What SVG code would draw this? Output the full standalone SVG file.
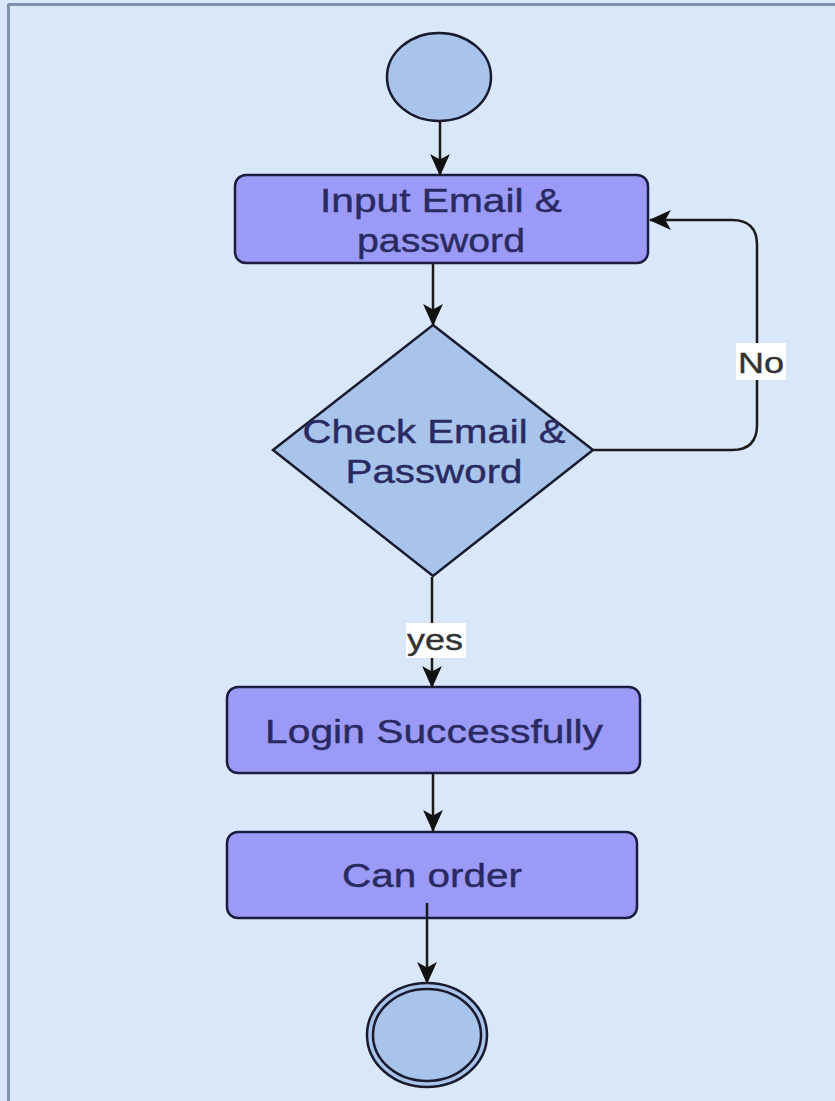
<svg xmlns="http://www.w3.org/2000/svg" width="835" height="1101" viewBox="0 0 835 1101">
<defs>
<style>
.proc{fill:#9b9bf7;stroke:#1c1c40;stroke-width:2.5}
.state{fill:#a9c4eb;stroke:#1a1a2e;stroke-width:2.5}
.t{font-family:"Liberation Sans",Arial,sans-serif;font-size:33px;fill:#2a2a62;text-anchor:middle;stroke:#2a2a62;stroke-width:0.4}
.lbl{font-family:"Liberation Sans",Arial,sans-serif;font-size:30px;fill:#333;text-anchor:middle;stroke:#333;stroke-width:0.4}
.edge{fill:none;stroke:#1a1a1a;stroke-width:2.5}
</style>
<marker id="arr" viewBox="0 0 20 20" refX="19" refY="10" markerWidth="22" markerHeight="22" orient="auto" markerUnits="userSpaceOnUse">
<path d="M0,1 L20,10 L0,19 L5,10 Z" fill="#111"/>
</marker>
</defs>
<rect x="0" y="0" width="835" height="1101" fill="#d9e7f8"/>
<line x1="8" y1="4.5" x2="835" y2="4.5" stroke="#7d91ab" stroke-width="3"/>
<line x1="8.5" y1="4" x2="8.5" y2="1101" stroke="#7d91ab" stroke-width="3"/>

<g id="start">
<ellipse class="state" cx="439" cy="77" rx="52" ry="44"/>
</g>

<g id="input">
<rect class="proc" x="235" y="175" width="413" height="88" rx="11"/>
<text class="t" x="441" y="212" textLength="242" lengthAdjust="spacingAndGlyphs">Input Email &amp;</text>
<text class="t" x="441" y="252" textLength="168" lengthAdjust="spacingAndGlyphs">password</text>
</g>

<g id="check">
<polygon class="state" points="433,325 593,450 433,576 273,450"/>
<text class="t" x="434" y="443" textLength="263" lengthAdjust="spacingAndGlyphs">Check Email &amp;</text>
<text class="t" x="434" y="483" textLength="177" lengthAdjust="spacingAndGlyphs">Password</text>
</g>

<g id="login">
<rect class="proc" x="227" y="687" width="413" height="86" rx="11"/>
<text class="t" x="434" y="743" textLength="338" lengthAdjust="spacingAndGlyphs">Login Successfully</text>
</g>

<g id="order">
<rect class="proc" x="227" y="832" width="410" height="86" rx="11"/>
<text class="t" x="432" y="887" textLength="180" lengthAdjust="spacingAndGlyphs">Can order</text>
</g>

<g id="end">
<ellipse class="state" cx="427" cy="1035" rx="60" ry="52"/>
<ellipse fill="none" stroke="#1a1a2e" stroke-width="2.5" cx="427" cy="1035" rx="54" ry="46"/>
</g>

<g id="connectors">
<line class="edge" x1="440" y1="122" x2="440" y2="175" marker-end="url(#arr)"/>
<line class="edge" x1="433" y1="264" x2="433" y2="325" marker-end="url(#arr)"/>
<path class="edge" d="M593,450 H732 Q757,450 757,425 V245 Q757,220 732,220 H650" marker-end="url(#arr)"/>
<rect x="736" y="343" width="50" height="37" fill="#ffffff"/>
<text class="lbl" x="761" y="373" textLength="46" lengthAdjust="spacingAndGlyphs">No</text>
<line class="edge" x1="432" y1="577" x2="432" y2="687" marker-end="url(#arr)"/>
<rect x="406" y="623" width="60" height="35" fill="#ffffff"/>
<text class="lbl" x="435" y="650" textLength="56" lengthAdjust="spacingAndGlyphs">yes</text>
<line class="edge" x1="433" y1="774" x2="433" y2="831" marker-end="url(#arr)"/>
<line class="edge" x1="427" y1="903" x2="427" y2="983" stroke="#3a3f55" marker-end="url(#arr)"/>
</g>
</svg>
